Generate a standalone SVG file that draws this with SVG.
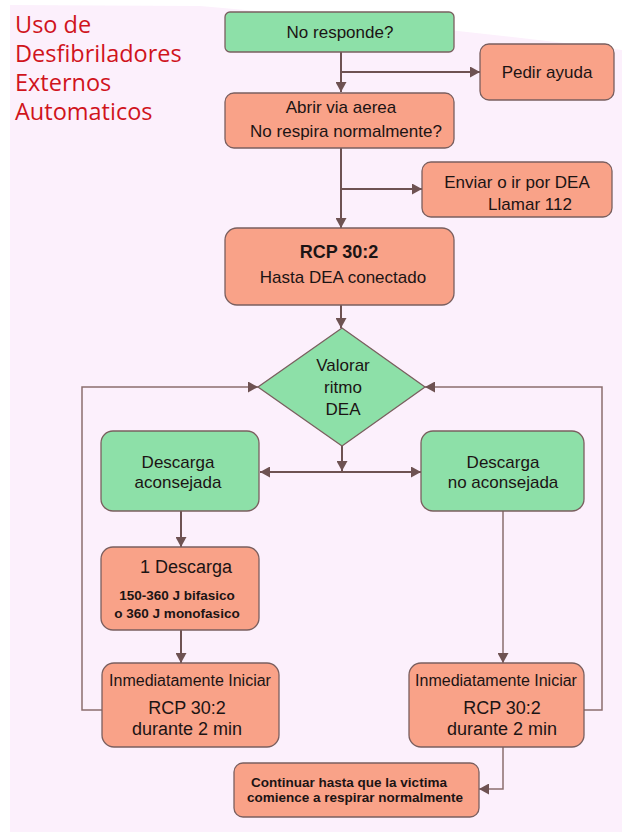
<svg xmlns="http://www.w3.org/2000/svg" width="622" height="834" viewBox="0 0 622 834">
<style>
.t{font-family:"Liberation Sans",Arial,sans-serif;fill:#1c1414;text-anchor:middle}
.g{fill:#8de0a8;stroke:#7a5f5f;stroke-width:1.3}
.s{fill:#f9a288;stroke:#7a5f5f;stroke-width:1.3}
.c{fill:none;stroke:#6e5252;stroke-width:2}
.l{fill:none;stroke:#8a6e6e;stroke-width:1.5}
.title{font-family:"Open Sans","Noto Sans",sans-serif;fill:#d0141c;font-size:23.5px}
</style>
<defs>
<marker id="a" markerUnits="userSpaceOnUse" markerWidth="11" markerHeight="11" refX="10" refY="5.5" orient="auto">
<path d="M0,0 L10,5.5 L0,11 z" fill="#6e5252"/>
</marker>
</defs>
<rect width="622" height="834" fill="#ffffff"/>
<path d="M10,5 L200,6 Q420,25 622,50 L622,832 L10,832 Z" fill="#fcf0fc"/>
<g id="title">
<text class="title" x="15" y="33">Uso de</text>
<text class="title" x="15" y="62">Desfibriladores</text>
<text class="title" x="15" y="91">Externos</text>
<text class="title" x="15" y="120">Automaticos</text>
</g>
<g id="connectors">
<path class="c" d="M341,52 V92" marker-end="url(#a)"/>
<path class="c" d="M341,72 H480" marker-end="url(#a)"/>
<path class="c" d="M341,148 V228" marker-end="url(#a)"/>
<path class="c" d="M341,189 H422" marker-end="url(#a)"/>
<path class="c" d="M341,305 V328" marker-end="url(#a)"/>
<path class="c" d="M342,446 V471" marker-end="url(#a)"/>
<path class="c" d="M342,472 H260" marker-end="url(#a)"/>
<path class="c" d="M342,472 H421" marker-end="url(#a)"/>
<path class="c" d="M181,511 V547" marker-end="url(#a)"/>
<path class="c" d="M181,630 V663" marker-end="url(#a)"/>
<path class="l" d="M102,710 H82 V387 H258" marker-end="url(#a)"/>
<path class="l" d="M503,511 V663" marker-end="url(#a)"/>
<path class="l" d="M584,710 H602 V387 H425" marker-end="url(#a)"/>
<path class="l" d="M503,747 V789 H479" marker-end="url(#a)"/>
</g>
<g id="n1"><rect class="g" x="225" y="12" width="229" height="40" rx="5"/><text class="t" x="340" y="38" font-size="17">No responde?</text></g>
<g id="n2"><rect class="s" x="480" y="44" width="134" height="56" rx="9"/><text class="t" x="547" y="78" font-size="17">Pedir ayuda</text></g>
<g id="n3"><rect class="s" x="225" y="93" width="229" height="55" rx="9"/><text class="t" x="341" y="113" font-size="17">Abrir via aerea</text><text class="t" x="346" y="137" font-size="17">No respira normalmente?</text></g>
<g id="n4"><rect class="s" x="422" y="162" width="190" height="55" rx="9"/><text class="t" x="517" y="188" font-size="17">Enviar o ir por DEA</text><text class="t" x="530" y="210" font-size="17">Llamar 112</text></g>
<g id="n5"><rect class="s" x="225" y="228" width="229" height="77" rx="12"/><text class="t" x="339" y="258" font-size="18" font-weight="bold">RCP 30:2</text><text class="t" x="343" y="283" font-size="17">Hasta DEA conectado</text></g>
<g id="n6"><path class="g" d="M342,328 L425,387 L342,446 L258,387 Z"/><text class="t" x="343" y="371" font-size="17">Valorar</text><text class="t" x="343" y="393" font-size="17">ritmo</text><text class="t" x="343" y="415" font-size="17">DEA</text></g>
<g id="n7"><rect class="g" x="101" y="431" width="158" height="80" rx="12"/><text class="t" x="178" y="468" font-size="17">Descarga</text><text class="t" x="178" y="488" font-size="17">aconsejada</text></g>
<g id="n8"><rect class="g" x="421" y="431" width="163" height="80" rx="12"/><text class="t" x="503" y="468" font-size="17">Descarga</text><text class="t" x="503" y="488" font-size="17">no aconsejada</text></g>
<g id="n9"><rect class="s" x="101" y="547" width="158" height="83" rx="12"/><text class="t" x="186" y="573" font-size="18">1 Descarga</text><text class="t" x="177" y="600" font-size="13.5" font-weight="bold">150-360 J bifasico</text><text class="t" x="177" y="618" font-size="13.5" font-weight="bold">o 360 J monofasico</text></g>
<g id="n10"><rect class="s" x="102" y="663" width="177" height="84" rx="12"/><text class="t" x="190" y="686" font-size="16">Inmediatamente Iniciar</text><text class="t" x="187" y="714" font-size="18">RCP 30:2</text><text class="t" x="187" y="735" font-size="18">durante 2 min</text></g>
<g id="n11"><rect class="s" x="409" y="663" width="175" height="84" rx="12"/><text class="t" x="496" y="686" font-size="16">Inmediatamente Iniciar</text><text class="t" x="502" y="714" font-size="18">RCP 30:2</text><text class="t" x="502" y="735" font-size="18">durante 2 min</text></g>
<g id="n12"><rect class="s" x="234" y="763" width="245" height="54" rx="9"/><text class="t" x="349" y="787" font-size="13.5" font-weight="bold">Continuar hasta que la victima</text><text class="t" x="355" y="802" font-size="13.5" font-weight="bold">comience a respirar normalmente</text></g>
</svg>
